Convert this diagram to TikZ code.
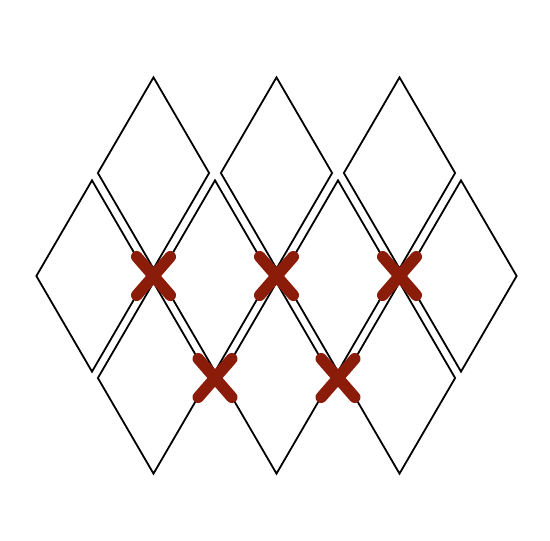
\documentclass[tikz,border=0pt]{standalone}
\usepackage{tikz}
\usetikzlibrary{shapes.geometric,shapes.misc}

\definecolor{crossred}{RGB}{140,28,10}

\tikzset{
	tile/.style={diamond, draw, line width=1.8pt, inner sep=0pt, minimum width=112pt, minimum height=192pt},
	mark x/.style={cross out, draw=crossred, line width=11.5pt, line cap=round, inner sep=0pt, minimum width=22pt, minimum height=27pt},
}

\begin{document}
\begin{tikzpicture}[x=1pt,y=-1pt]
	\useasboundingbox (0,0) rectangle (550,541);

	\node[tile] (top-1) at (153.5,173) {};
	\node[tile] (top-2) at (276.5,173) {};
	\node[tile] (top-3) at (399.5,173) {};

	\node[tile] (mid-1) at (92,276) {};
	\node[tile] (mid-2) at (215,276) {};
	\node[tile] (mid-3) at (338,276) {};
	\node[tile] (mid-4) at (461,276) {};

	\node[tile] (bot-1) at (153.5,378) {};
	\node[tile] (bot-2) at (276.5,378) {};
	\node[tile] (bot-3) at (399.5,378) {};

	\node[mark x] (x-1) at (153.5,276) {};
	\node[mark x] (x-2) at (276.5,276) {};
	\node[mark x] (x-3) at (399.5,276) {};
	\node[mark x] (x-4) at (215,378) {};
	\node[mark x] (x-5) at (338,378) {};
\end{tikzpicture}
\end{document}
